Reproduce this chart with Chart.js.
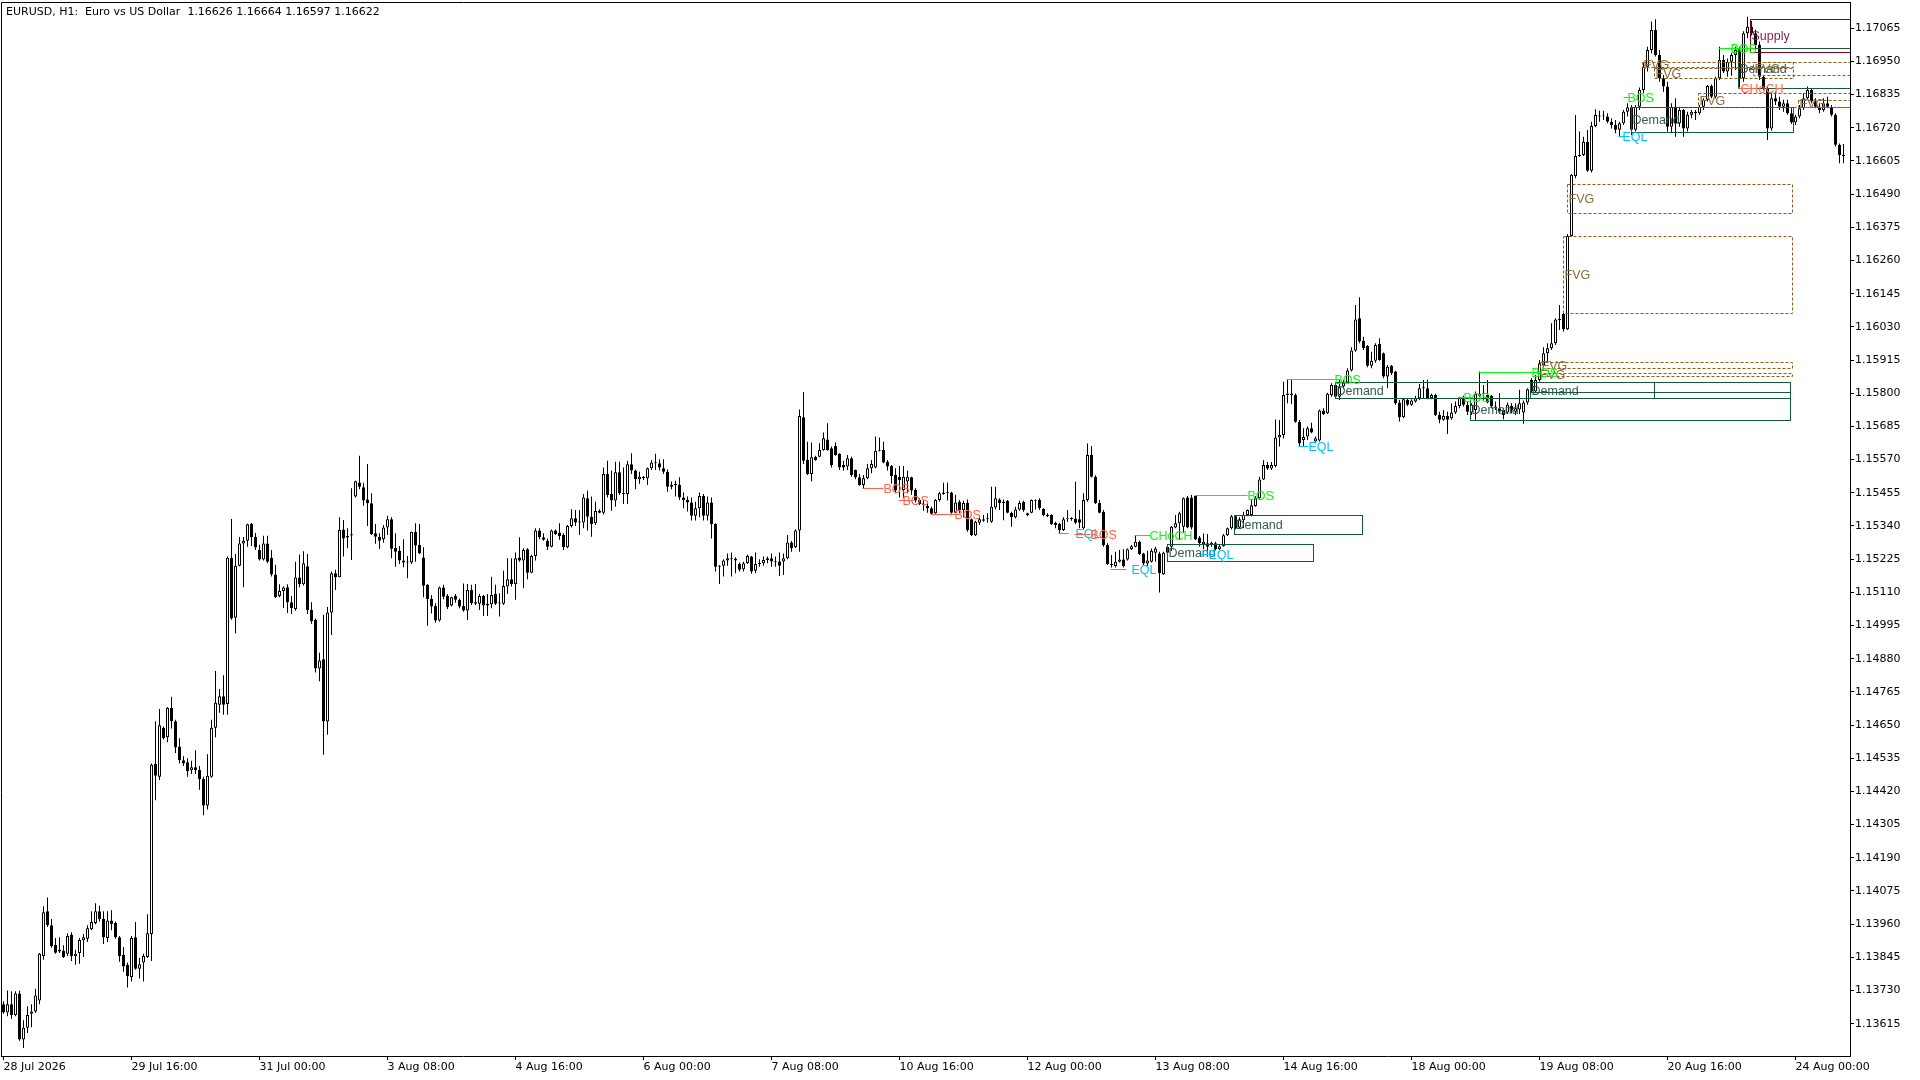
<!DOCTYPE html>
<html lang="en">
<head>
<meta charset="UTF-8">
<title>EURUSD, H1</title>
<style>
  html, body { margin: 0; padding: 0; background: #ffffff; }
  #wrap { width: 1920px; height: 1080px; }
</style>
<script src="https://cdn.jsdelivr.net/npm/chart.js"></script>
</head>
<body>
<div id="wrap"><canvas id="chart" width="1920" height="1080"></canvas></div>
<script>
const chartTitle = 'EURUSD, H1:  Euro vs US Dollar  1.16626 1.16664 1.16597 1.16622';

// H1 bars, 28 Jul 08:00 .. 24 Aug 12:00 (bar index = position on the x axis)
const opens = [
1.13682,1.13654,1.13682,1.13645,1.13720,1.13560,1.13601,1.13649,1.13657,1.13695,
1.13850,1.14005,1.13956,1.13888,1.13865,1.13868,1.13857,1.13923,1.13849,1.13860,
1.13904,1.13909,1.13942,1.13964,1.14005,1.13978,1.13912,1.13973,1.13964,1.13915,
1.13854,1.13819,1.13777,1.13915,1.13805,1.13827,1.13846,1.13926,1.14515,1.14471,
1.14641,1.14608,1.14709,1.14663,1.14576,1.14528,1.14521,1.14493,1.14504,1.14494,
1.14463,1.14371,1.14471,1.14641,1.14720,1.14750,1.14723,1.15230,1.15022,1.15202,
1.15279,1.15289,1.15348,1.15302,1.15257,1.15224,1.15279,1.15230,1.15172,1.15097,
1.15115,1.15128,1.15076,1.15052,1.15161,1.15138,1.15200,1.15049,1.15015,1.14846,
1.14878,1.14662,1.15040,1.15176,1.15162,1.15328,1.15305,1.15307,1.15442,1.15491,
1.15474,1.15432,1.15419,1.15315,1.15303,1.15294,1.15335,1.15363,1.15264,1.15253,
1.15220,1.15213,1.15213,1.15319,1.15274,1.15231,1.15136,1.15087,1.15063,1.15012,
1.15127,1.15097,1.15064,1.15097,1.15084,1.15063,1.15047,1.15118,1.15076,1.15070,
1.15097,1.15070,1.15069,1.15104,1.15073,1.15070,1.15130,1.15155,1.15139,1.15231,
1.15220,1.15259,1.15178,1.15236,1.15324,1.15301,1.15289,1.15268,1.15324,1.15317,
1.15309,1.15266,1.15340,1.15367,1.15352,1.15352,1.15436,1.15372,1.15349,1.15392,
1.15386,1.15520,1.15451,1.15428,1.15526,1.15453,1.15451,1.15554,1.15532,1.15502,
1.15511,1.15505,1.15540,1.15560,1.15557,1.15540,1.15528,1.15476,1.15482,1.15483,
1.15439,1.15430,1.15421,1.15375,1.15401,1.15444,1.15375,1.15421,1.15347,1.15199,
1.15202,1.15220,1.15228,1.15226,1.15208,1.15190,1.15211,1.15234,1.15185,1.15208,
1.15211,1.15228,1.15228,1.15217,1.15217,1.15217,1.15228,1.15283,1.15266,1.15324,
1.15717,1.15569,1.15520,1.15580,1.15580,1.15603,1.15640,1.15609,1.15617,1.15590,
1.15551,1.15546,1.15575,1.15534,1.15509,1.15482,1.15505,1.15540,1.15543,1.15601,
1.15603,1.15563,1.15548,1.15517,1.15511,1.15465,1.15494,1.15509,1.15465,1.15430,
1.15416,1.15409,1.15401,1.15384,1.15430,1.15451,1.15456,1.15456,1.15386,1.15424,
1.15395,1.15420,1.15363,1.15308,1.15351,1.15358,1.15363,1.15355,1.15404,1.15432,
1.15424,1.15427,1.15386,1.15370,1.15397,1.15424,1.15384,1.15386,1.15430,1.15430,
1.15400,1.15378,1.15378,1.15351,1.15347,1.15326,1.15363,1.15366,1.15366,1.15363,
1.15332,1.15430,1.15586,1.15511,1.15420,1.15389,1.15274,1.15208,1.15201,1.15216,
1.15224,1.15224,1.15259,1.15268,1.15285,1.15245,1.15210,1.15216,1.15247,1.15245,
1.15173,1.15247,1.15268,1.15335,1.15349,1.15337,1.15439,1.15439,1.15444,1.15300,
1.15277,1.15280,1.15274,1.15280,1.15259,1.15270,1.15308,1.15332,1.15374,1.15335,
1.15360,1.15378,1.15378,1.15409,1.15436,1.15501,1.15551,1.15539,1.15548,1.15647,
1.15655,1.15794,1.15799,1.15794,1.15701,1.15638,1.15650,1.15679,1.15633,1.15636,
1.15740,1.15731,1.15794,1.15829,1.15788,1.15823,1.15837,1.15879,1.15948,1.16060,
1.15982,1.15964,1.15895,1.15913,1.15971,1.15939,1.15858,1.15895,1.15875,1.15768,
1.15717,1.15777,1.15760,1.15771,1.15783,1.15817,1.15817,1.15783,1.15794,1.15725,
1.15708,1.15721,1.15713,1.15733,1.15756,1.15786,1.15760,1.15733,1.15742,1.15791,
1.15798,1.15794,1.15791,1.15754,1.15748,1.15742,1.15733,1.15756,1.15736,1.15744,
1.15733,1.15768,1.15846,1.15806,1.15846,1.15898,1.15939,1.15956,1.15973,1.16054,
1.16075,1.16022,1.16345,1.16553,1.16622,1.16626,1.16672,1.16571,1.16726,1.16759,
1.16761,1.16759,1.16741,1.16730,1.16713,1.16736,1.16776,1.16791,1.16713,1.16793,
1.16851,1.16932,1.16990,1.17059,1.16972,1.16892,1.16863,1.16724,1.16793,1.16736,
1.16782,1.16718,1.16765,1.16776,1.16770,1.16793,1.16817,1.16865,1.16828,1.16892,
1.16955,1.16915,1.16949,1.16972,1.16990,1.16892,1.17048,1.17070,1.17048,1.17007,
1.16897,1.16857,1.16718,1.16822,1.16811,1.16793,1.16805,1.16770,1.16738,1.16759,
1.16788,1.16822,1.16851,1.16811,1.16793,1.16782,1.16805,1.16793,1.16765,1.16661,
1.16626
];

const highs = [
1.13693,1.13730,1.13727,1.13727,1.13730,1.13627,1.13675,1.13682,1.13736,1.13860,
1.14022,1.14052,1.13978,1.13912,1.13915,1.13887,1.13928,1.13932,1.13871,1.13912,
1.13926,1.13956,1.14005,1.14032,1.14024,1.14005,1.14005,1.14008,1.13969,1.13919,
1.13881,1.13827,1.13919,1.13967,1.13843,1.13857,1.13994,1.14517,1.14663,1.14706,
1.14645,1.14712,1.14748,1.14668,1.14604,1.14542,1.14535,1.14526,1.14563,1.14508,
1.14471,1.14549,1.14668,1.14837,1.14775,1.14823,1.15234,1.15364,1.15243,1.15302,
1.15302,1.15348,1.15350,1.15316,1.15275,1.15306,1.15306,1.15257,1.15206,1.15138,
1.15131,1.15138,1.15097,1.15216,1.15241,1.15252,1.15243,1.15076,1.15019,1.14901,
1.15032,1.15059,1.15182,1.15188,1.15370,1.15361,1.15332,1.15471,1.15497,1.15583,
1.15490,1.15555,1.15453,1.15347,1.15315,1.15343,1.15375,1.15370,1.15315,1.15271,
1.15294,1.15236,1.15320,1.15349,1.15347,1.15266,1.15139,1.15101,1.15072,1.15130,
1.15136,1.15104,1.15095,1.15104,1.15089,1.15141,1.15139,1.15136,1.15139,1.15104,
1.15101,1.15104,1.15164,1.15136,1.15107,1.15185,1.15228,1.15228,1.15248,1.15301,
1.15263,1.15263,1.15240,1.15332,1.15332,1.15315,1.15297,1.15328,1.15328,1.15349,
1.15315,1.15343,1.15398,1.15395,1.15395,1.15451,1.15462,1.15442,1.15424,1.15398,
1.15543,1.15566,1.15532,1.15563,1.15563,1.15543,1.15566,1.15592,1.15536,1.15528,
1.15513,1.15543,1.15569,1.15590,1.15571,1.15571,1.15536,1.15494,1.15497,1.15509,
1.15456,1.15442,1.15439,1.15424,1.15456,1.15451,1.15442,1.15439,1.15349,1.15205,
1.15225,1.15245,1.15248,1.15232,1.15213,1.15216,1.15240,1.15236,1.15248,1.15225,
1.15234,1.15234,1.15245,1.15234,1.15248,1.15245,1.15309,1.15288,1.15329,1.15744,
1.15804,1.15632,1.15629,1.15583,1.15627,1.15664,1.15696,1.15615,1.15629,1.15592,
1.15566,1.15586,1.15580,1.15536,1.15520,1.15517,1.15555,1.15569,1.15650,1.15647,
1.15632,1.15569,1.15551,1.15540,1.15548,1.15548,1.15532,1.15511,1.15471,1.15436,
1.15430,1.15424,1.15407,1.15433,1.15459,1.15490,1.15490,1.15459,1.15448,1.15430,
1.15427,1.15432,1.15366,1.15358,1.15372,1.15378,1.15384,1.15476,1.15476,1.15436,
1.15432,1.15430,1.15389,1.15407,1.15427,1.15427,1.15386,1.15432,1.15432,1.15436,
1.15401,1.15384,1.15381,1.15355,1.15351,1.15370,1.15395,1.15370,1.15493,1.15395,
1.15453,1.15626,1.15617,1.15516,1.15430,1.15395,1.15280,1.15239,1.15251,1.15257,
1.15259,1.15262,1.15274,1.15305,1.15289,1.15247,1.15254,1.15262,1.15268,1.15251,
1.15251,1.15274,1.15340,1.15378,1.15389,1.15439,1.15444,1.15447,1.15447,1.15305,
1.15314,1.15312,1.15285,1.15285,1.15277,1.15312,1.15335,1.15378,1.15378,1.15370,
1.15389,1.15397,1.15430,1.15444,1.15511,1.15568,1.15562,1.15562,1.15709,1.15707,
1.15840,1.15848,1.15846,1.15799,1.15707,1.15679,1.15685,1.15698,1.15650,1.15744,
1.15748,1.15802,1.15835,1.15835,1.15846,1.15846,1.15887,1.15959,1.16106,1.16133,
1.15996,1.15967,1.15944,1.15973,1.15991,1.15941,1.15898,1.15898,1.15878,1.15777,
1.15783,1.15783,1.15779,1.15791,1.15832,1.15846,1.15848,1.15798,1.15798,1.15736,
1.15742,1.15736,1.15765,1.15771,1.15788,1.15791,1.15771,1.15765,1.15806,1.15875,
1.15829,1.15846,1.15794,1.15771,1.15800,1.15748,1.15768,1.15765,1.15765,1.15812,
1.15775,1.15817,1.15852,1.15863,1.15915,1.15959,1.15973,1.16043,1.16060,1.16106,
1.16079,1.16352,1.16560,1.16764,1.16707,1.16689,1.16712,1.16741,1.16784,1.16779,
1.16779,1.16770,1.16753,1.16747,1.16741,1.16782,1.16805,1.16799,1.16799,1.16860,
1.16944,1.17001,1.17088,1.17096,1.16990,1.16903,1.16880,1.16805,1.16822,1.16793,
1.16785,1.16776,1.16782,1.16782,1.16799,1.16822,1.16868,1.16870,1.16897,1.17001,
1.16972,1.16960,1.16978,1.17001,1.17001,1.17055,1.17105,1.17090,1.17060,1.17019,
1.16903,1.16863,1.16840,1.16845,1.16828,1.16817,1.16817,1.16788,1.16765,1.16799,
1.16840,1.16863,1.16857,1.16822,1.16805,1.16822,1.16828,1.16799,1.16770,1.16666,
1.16664
];

const lows = [
1.13649,1.13641,1.13631,1.13641,1.13556,1.13531,1.13583,1.13603,1.13652,1.13682,
1.13837,1.13950,1.13878,1.13857,1.13860,1.13843,1.13850,1.13832,1.13819,1.13823,
1.13846,1.13898,1.13939,1.13960,1.13969,1.13891,1.13898,1.13939,1.13909,1.13830,
1.13795,1.13740,1.13761,1.13802,1.13772,1.13761,1.13843,1.13832,1.14389,1.14460,
1.14600,1.14590,1.14638,1.14553,1.14517,1.14508,1.14471,1.14480,1.14480,1.14426,
1.14337,1.14357,1.14467,1.14608,1.14693,1.14686,1.14686,1.15015,1.14967,1.15200,
1.15128,1.15268,1.15271,1.15257,1.15220,1.15220,1.15211,1.15165,1.15090,1.15093,
1.15056,1.15038,1.15035,1.15046,1.15128,1.15134,1.15035,1.15001,1.14832,1.14802,
1.14547,1.14616,1.14962,1.15118,1.15162,1.15234,1.15263,1.15222,1.15439,1.15467,
1.15410,1.15340,1.15309,1.15278,1.15260,1.15282,1.15309,1.15228,1.15199,1.15208,
1.15197,1.15159,1.15208,1.15216,1.15243,1.15093,1.14994,1.15037,1.15005,1.15009,
1.15086,1.15052,1.15061,1.15074,1.15055,1.15043,1.15014,1.15066,1.15066,1.15049,
1.15028,1.15028,1.15055,1.15066,1.15026,1.15066,1.15104,1.15130,1.15084,1.15216,
1.15124,1.15155,1.15176,1.15220,1.15294,1.15289,1.15257,1.15266,1.15309,1.15292,
1.15257,1.15263,1.15335,1.15340,1.15309,1.15332,1.15324,1.15303,1.15343,1.15384,
1.15380,1.15439,1.15393,1.15407,1.15447,1.15416,1.15416,1.15520,1.15467,1.15486,
1.15499,1.15482,1.15534,1.15534,1.15532,1.15520,1.15459,1.15467,1.15442,1.15430,
1.15401,1.15390,1.15359,1.15359,1.15370,1.15359,1.15359,1.15297,1.15182,1.15139,
1.15165,1.15202,1.15165,1.15176,1.15182,1.15182,1.15208,1.15174,1.15176,1.15199,
1.15202,1.15211,1.15199,1.15199,1.15167,1.15170,1.15225,1.15251,1.15263,1.15251,
1.15555,1.15517,1.15494,1.15566,1.15578,1.15601,1.15601,1.15543,1.15583,1.15534,
1.15532,1.15534,1.15511,1.15502,1.15479,1.15471,1.15502,1.15523,1.15540,1.15598,
1.15557,1.15532,1.15486,1.15453,1.15439,1.15436,1.15453,1.15448,1.15421,1.15413,
1.15393,1.15386,1.15378,1.15382,1.15424,1.15448,1.15428,1.15382,1.15384,1.15384,
1.15370,1.15320,1.15305,1.15305,1.15343,1.15355,1.15351,1.15351,1.15397,1.15395,
1.15360,1.15384,1.15337,1.15366,1.15393,1.15389,1.15374,1.15384,1.15397,1.15395,
1.15374,1.15370,1.15343,1.15332,1.15314,1.15323,1.15355,1.15358,1.15347,1.15332,
1.15328,1.15424,1.15508,1.15416,1.15384,1.15268,1.15205,1.15196,1.15196,1.15213,
1.15196,1.15220,1.15257,1.15266,1.15239,1.15205,1.15201,1.15213,1.15216,1.15109,
1.15170,1.15224,1.15254,1.15332,1.15293,1.15317,1.15332,1.15328,1.15291,1.15268,
1.15259,1.15254,1.15268,1.15254,1.15257,1.15268,1.15305,1.15328,1.15328,1.15332,
1.15332,1.15374,1.15374,1.15407,1.15432,1.15499,1.15534,1.15534,1.15543,1.15615,
1.15643,1.15765,1.15762,1.15698,1.15617,1.15617,1.15638,1.15661,1.15627,1.15633,
1.15725,1.15728,1.15788,1.15783,1.15777,1.15817,1.15832,1.15875,1.15944,1.15973,
1.15950,1.15890,1.15887,1.15906,1.15913,1.15852,1.15817,1.15863,1.15760,1.15702,
1.15713,1.15756,1.15756,1.15768,1.15777,1.15783,1.15779,1.15779,1.15721,1.15696,
1.15705,1.15659,1.15708,1.15728,1.15748,1.15754,1.15725,1.15725,1.15708,1.15786,
1.15777,1.15765,1.15748,1.15742,1.15731,1.15710,1.15728,1.15731,1.15725,1.15728,
1.15694,1.15760,1.15800,1.15800,1.15840,1.15892,1.15910,1.15950,1.15967,1.16019,
1.16014,1.16019,1.16343,1.16545,1.16620,1.16622,1.16568,1.16565,1.16722,1.16741,
1.16747,1.16736,1.16718,1.16701,1.16692,1.16730,1.16759,1.16695,1.16707,1.16782,
1.16840,1.16915,1.16978,1.16967,1.16880,1.16845,1.16707,1.16701,1.16689,1.16724,
1.16689,1.16707,1.16753,1.16747,1.16765,1.16782,1.16811,1.16822,1.16822,1.16886,
1.16910,1.16897,1.16900,1.16920,1.16860,1.16880,1.17030,1.17040,1.16990,1.16886,
1.16851,1.16678,1.16710,1.16799,1.16782,1.16776,1.16765,1.16733,1.16730,1.16753,
1.16782,1.16817,1.16805,1.16788,1.16770,1.16776,1.16788,1.16759,1.16655,1.16597,
1.16597
];

const closes = [
1.13654,1.13682,1.13645,1.13720,1.13560,1.13601,1.13645,1.13657,1.13713,1.13857,
1.14001,1.13956,1.13884,1.13861,1.13871,1.13846,1.13919,1.13850,1.13857,1.13905,
1.13915,1.13946,1.13967,1.14005,1.13978,1.13915,1.13973,1.13960,1.13915,1.13850,
1.13813,1.13779,1.13912,1.13805,1.13821,1.13850,1.13928,1.14512,1.14474,1.14649,
1.14604,1.14709,1.14663,1.14572,1.14528,1.14517,1.14490,1.14504,1.14493,1.14463,
1.14371,1.14474,1.14641,1.14727,1.14750,1.14720,1.15230,1.15019,1.15202,1.15279,
1.15289,1.15346,1.15302,1.15265,1.15224,1.15279,1.15216,1.15172,1.15093,1.15115,
1.15127,1.15076,1.15056,1.15161,1.15138,1.15211,1.15049,1.15011,1.14846,1.14874,
1.14662,1.15040,1.15176,1.15162,1.15326,1.15297,1.15300,1.15311,1.15495,1.15476,
1.15428,1.15419,1.15312,1.15303,1.15289,1.15335,1.15363,1.15261,1.15251,1.15220,
1.15213,1.15215,1.15319,1.15272,1.15245,1.15133,1.15087,1.15061,1.15012,1.15127,
1.15095,1.15058,1.15093,1.15084,1.15061,1.15047,1.15118,1.15072,1.15070,1.15097,
1.15064,1.15064,1.15101,1.15070,1.15071,1.15132,1.15155,1.15139,1.15228,1.15220,
1.15257,1.15178,1.15236,1.15324,1.15301,1.15292,1.15268,1.15324,1.15312,1.15305,
1.15266,1.15340,1.15367,1.15352,1.15355,1.15439,1.15372,1.15347,1.15392,1.15386,
1.15520,1.15447,1.15428,1.15526,1.15453,1.15451,1.15554,1.15532,1.15502,1.15511,
1.15505,1.15540,1.15560,1.15557,1.15543,1.15528,1.15476,1.15482,1.15483,1.15439,
1.15430,1.15421,1.15375,1.15401,1.15444,1.15375,1.15421,1.15347,1.15199,1.15202,
1.15220,1.15228,1.15225,1.15220,1.15188,1.15211,1.15236,1.15182,1.15208,1.15211,
1.15222,1.15222,1.15217,1.15214,1.15202,1.15228,1.15283,1.15263,1.15324,1.15721,
1.15566,1.15520,1.15578,1.15569,1.15603,1.15644,1.15603,1.15551,1.15586,1.15543,
1.15543,1.15575,1.15517,1.15509,1.15482,1.15505,1.15540,1.15555,1.15601,1.15603,
1.15560,1.15546,1.15513,1.15463,1.15499,1.15511,1.15511,1.15463,1.15428,1.15416,
1.15413,1.15401,1.15382,1.15430,1.15453,1.15456,1.15453,1.15386,1.15421,1.15395,
1.15420,1.15326,1.15308,1.15355,1.15363,1.15363,1.15366,1.15407,1.15436,1.15420,
1.15420,1.15386,1.15370,1.15397,1.15420,1.15395,1.15378,1.15430,1.15427,1.15401,
1.15378,1.15374,1.15347,1.15343,1.15326,1.15363,1.15366,1.15364,1.15351,1.15351,
1.15430,1.15586,1.15511,1.15420,1.15386,1.15274,1.15208,1.15205,1.15216,1.15224,
1.15201,1.15259,1.15270,1.15285,1.15243,1.15210,1.15220,1.15254,1.15262,1.15176,
1.15247,1.15268,1.15337,1.15349,1.15384,1.15436,1.15335,1.15335,1.15293,1.15280,
1.15285,1.15268,1.15282,1.15259,1.15270,1.15308,1.15332,1.15374,1.15332,1.15363,
1.15378,1.15395,1.15412,1.15436,1.15501,1.15551,1.15539,1.15551,1.15647,1.15655,
1.15794,1.15799,1.15794,1.15701,1.15626,1.15648,1.15679,1.15664,1.15644,1.15740,
1.15728,1.15798,1.15829,1.15788,1.15821,1.15837,1.15879,1.15948,1.16056,1.15979,
1.15956,1.15895,1.15913,1.15967,1.15915,1.15858,1.15892,1.15869,1.15765,1.15717,
1.15779,1.15760,1.15775,1.15783,1.15817,1.15820,1.15783,1.15794,1.15725,1.15708,
1.15721,1.15708,1.15733,1.15756,1.15786,1.15760,1.15736,1.15760,1.15798,1.15798,
1.15800,1.15768,1.15754,1.15748,1.15736,1.15725,1.15760,1.15742,1.15748,1.15765,
1.15768,1.15814,1.15806,1.15846,1.15904,1.15939,1.15956,1.15973,1.16056,1.16056,
1.16022,1.16345,1.16557,1.16622,1.16626,1.16672,1.16571,1.16726,1.16764,1.16761,
1.16759,1.16741,1.16730,1.16713,1.16736,1.16776,1.16791,1.16713,1.16793,1.16851,
1.16932,1.16990,1.17059,1.16972,1.16892,1.16863,1.16724,1.16793,1.16736,1.16782,
1.16718,1.16765,1.16776,1.16770,1.16793,1.16817,1.16865,1.16828,1.16892,1.16955,
1.16915,1.16949,1.16972,1.16990,1.16892,1.17048,1.17070,1.17048,1.17007,1.16897,
1.16857,1.16718,1.16822,1.16811,1.16793,1.16805,1.16770,1.16738,1.16759,1.16788,
1.16822,1.16851,1.16811,1.16793,1.16782,1.16805,1.16793,1.16765,1.16661,1.16626,
1.16622
];

// time axis: bar index of each label and its text
const xTickBars = [0, 32, 64, 96, 128, 160, 192, 224, 256, 288, 320, 352, 384, 416, 448];
const xTickText = ['28 Jul 2026', '29 Jul 16:00', '31 Jul 00:00', '3 Aug 08:00', '4 Aug 16:00',
  '6 Aug 00:00', '7 Aug 08:00', '10 Aug 16:00', '12 Aug 00:00', '13 Aug 08:00', '14 Aug 16:00',
  '18 Aug 00:00', '19 Aug 08:00', '20 Aug 16:00', '24 Aug 00:00'];

// price axis labels
const yTicks = [1.13615, 1.13730, 1.13845, 1.13960, 1.14075, 1.14190, 1.14305, 1.14420, 1.14535,
  1.14650, 1.14765, 1.14880, 1.14995, 1.15110, 1.15225, 1.15340, 1.15455, 1.15570, 1.15685,
  1.15800, 1.15915, 1.16030, 1.16145, 1.16260, 1.16375, 1.16490, 1.16605, 1.16720, 1.16835,
  1.16950, 1.17065];
const priceMin = 1.13503;
const priceMax = 1.17156;

// zones (demand / supply / fair value gaps), from bar .. to bar, top and bottom price
const zoneKind   = ['demand','demand','demand','demand','demand','demand','demand','demand','supply',
  'fvg','fvg','fvg','fvg','fvg','fvg','fvg','fvg','fvg'];
const zoneText   = ['Demand','Demand','Demand','Demand','Demand','','Demand','Demand','Supply',
  'FVG','FVG','FVG','FVG','FVG','FVG','FVG','FVG','FVG'];
const zoneStart  = [290.8, 307.6, 332.9, 366.6, 381.6, 381.6, 406.9, 433.6, 436.6,
  390.9, 389.9, 384.1, 383.6, 409.6, 412.6, 437.4, 423.6, 448.6];
const zoneEnd    = [327.4, 339.6, 446.6, 446.6, 412.6, 446.6, 447.4, 461.6, 461.6,
  447.1, 447.1, 447.1, 447.1, 447.4, 447.4, 461.6, 461.6, 461.6];
const zoneTop    = [1.15276, 1.15377, 1.15838, 1.15784, 1.15840, 1.15840, 1.16791, 1.16996, 1.17096,
  1.16525, 1.16345, 1.15907, 1.15871, 1.16949, 1.16926, 1.16949, 1.16840, 1.16817];
const zoneBottom = [1.15220, 1.15311, 1.15782, 1.15707, 1.15784, 1.15803, 1.16707, 1.16857, 1.16981,
  1.16423, 1.16078, 1.15888, 1.15860, 1.16932, 1.16892, 1.16903, 1.16791, 1.16793];

// structure lines (EQL, BOS, CHoCH)
const lineKind  = ['eql','eql','eql','eql','eql','bear','bear','bear','bear',
  'bull','bull','bull','bull','bull','bull','bull','bear'];
const lineText  = ['EQL','EQL','EQL','EQL','EQL','BOS','BOS','BOS','BOS',
  'CHoCH','BOS','BOS','BOS','BOS','BOS','BOS','CHoCH'];
const lineStart = [263.6, 276.6, 299.0, 323.6, 403.6, 214.6, 223.6, 231.6, 267.6,
  282.6, 297.6, 320.6, 363.6, 368.6, 404.9, 428.6, 433.6];
const lineEnd   = [266.0, 280.5, 301.0, 326.0, 405.0, 219.9, 227.4, 237.9, 271.6,
  286.6, 310.9, 332.9, 367.1, 384.1, 406.1, 437.1, 438.4];
const linePrice = [1.15316, 1.15191, 1.15243, 1.15617, 1.16692, 1.15471, 1.15430, 1.15381, 1.15313,
  1.15308, 1.15449, 1.15848, 1.15788, 1.15875, 1.16828, 1.16998, 1.16857];
const labelAt   = [267.8, 281.9, 301.0, 326.0, 404.6, 219.9, 224.5, 237.6, 271.5,
  286.4, 310.9, 332.6, 364.9, 381.9, 405.9, 431.6, 434.1];

const zoneStyle = {
  demand: { line: '#145c36', text: '#2f5e4f', dash: [] },
  supply: { line: '#800020', text: '#7a1f4c', dash: [] },
  fvg:    { line: '#8b5e14', text: '#8a6a3c', dash: [3, 2] }
};
const lineColor = { eql: '#00bfff', bear: '#ff6347', bull: '#00ff00' };
const labelFont = '12.5px "Liberation Sans", Arial, sans-serif';

Chart.defaults.font.family = '"DejaVu Sans", Verdana, sans-serif';
Chart.defaults.font.size = 11;
Chart.defaults.color = '#000000';

const n = Math.min(opens.length, highs.length, lows.length, closes.length);
const bodies = [], wicks = [], bodyFill = [];
for (let i = 0; i < n; i++) {
  const o = opens[i], c = closes[i];
  bodies.push({ x: i, y: [Math.min(o, c), Math.max(o, c)] });
  wicks.push({ x: i, y: [Math.min(lows[i], o, c), Math.max(highs[i], o, c)] });
  bodyFill.push(c >= o ? '#ffffff' : '#000000');
}

const overlay = {
  id: 'smcOverlay',
  afterDatasetsDraw(chart) {
    const { ctx, chartArea: a, scales: { x, y } } = chart;
    const px = v => Math.round(x.getPixelForValue(v)) + 0.5;
    const py = v => Math.round(y.getPixelForValue(v)) + 0.5;
    ctx.save();
    ctx.beginPath();
    ctx.rect(a.left, a.top, a.right - a.left, a.bottom - a.top);
    ctx.clip();
    ctx.lineWidth = 1;
    ctx.font = labelFont;
    ctx.textBaseline = 'middle';
    ctx.textAlign = 'left';

    zoneKind.forEach((k, i) => {
      const st = zoneStyle[k];
      const x1 = px(zoneStart[i]), x2 = px(zoneEnd[i]);
      const y1 = py(zoneTop[i]), y2 = py(zoneBottom[i]);
      ctx.strokeStyle = st.line;
      ctx.setLineDash(st.dash);
      ctx.strokeRect(x1, y1, x2 - x1, y2 - y1);
      ctx.setLineDash([]);
      if (zoneText[i]) {
        ctx.fillStyle = st.text;
        ctx.fillText(zoneText[i], x1 + 1, (y1 + y2) / 2 + 1);
      }
    });

    lineKind.forEach((k, i) => {
      const yy = py(linePrice[i]);
      ctx.strokeStyle = lineColor[k];
      ctx.beginPath();
      ctx.moveTo(px(lineStart[i]), yy);
      ctx.lineTo(px(lineEnd[i]), yy);
      ctx.stroke();
      ctx.fillStyle = lineColor[k];
      ctx.fillText(lineText[i], px(labelAt[i]), yy + 1);
    });
    ctx.restore();
  },
  afterDraw(chart) {
    const { ctx, chartArea: a } = chart;
    ctx.save();
    ctx.strokeStyle = '#000000';
    ctx.lineWidth = 1;
    ctx.beginPath();
    ctx.moveTo(a.left + 0.5, a.bottom);
    ctx.lineTo(a.left + 0.5, a.top + 0.5);
    ctx.lineTo(a.right, a.top + 0.5);
    ctx.stroke();
    ctx.fillStyle = '#000000';
    ctx.font = '11px "DejaVu Sans", Verdana, sans-serif';
    ctx.textBaseline = 'middle';
    ctx.textAlign = 'left';
    ctx.fillText(chartTitle, 6, 12);
    ctx.restore();
  }
};

new Chart(document.getElementById('chart'), {
  type: 'bar',
  data: {
    datasets: [
      {
        label: 'body', data: bodies, backgroundColor: bodyFill, borderColor: '#000000',
        borderWidth: 1, borderSkipped: false, barThickness: 3, minBarLength: 1,
        inflateAmount: 0, grouped: false
      },
      {
        label: 'wick', data: wicks, backgroundColor: '#000000', borderWidth: 0,
        barThickness: 1, inflateAmount: 0, grouped: false
      }
    ]
  },
  options: {
    responsive: false,
    animation: false,
    events: [],
    layout: { padding: { left: 1, top: 2, right: 0, bottom: 0 } },
    plugins: { legend: { display: false }, tooltip: { enabled: false }, title: { display: false } },
    scales: {
      x: {
        type: 'linear',
        min: -0.625,
        max: 461.625,
        offset: false,
        afterFit: s => { s.height = 24; s.paddingLeft = 0; s.paddingRight = 0; },
        afterBuildTicks: s => { s.ticks = xTickBars.map(v => ({ value: v })); },
        ticks: {
          callback: (v, idx) => xTickText[idx],
          align: 'start', autoSkip: false, maxRotation: 0, minRotation: 0,
          padding: 1, color: '#000000'
        },
        grid: { drawOnChartArea: false, drawTicks: true, tickLength: 4, color: '#000000', offset: false },
        border: { display: true, color: '#000000', width: 1 }
      },
      y: {
        position: 'right',
        min: priceMin,
        max: priceMax,
        // fixed axis width; no extra room for the end labels, like the terminal chart
        afterFit: s => { s.width = 70; s.paddingTop = 0; s.paddingBottom = 0; },
        afterBuildTicks: s => { s.ticks = yTicks.map(v => ({ value: v })); },
        ticks: { callback: v => v.toFixed(5), padding: 1, color: '#000000', autoSkip: false },
        grid: { drawOnChartArea: false, drawTicks: true, tickLength: 4, color: '#000000' },
        border: { display: true, color: '#000000', width: 1 }
      }
    }
  },
  plugins: [overlay]
});
</script>
</body>
</html>
